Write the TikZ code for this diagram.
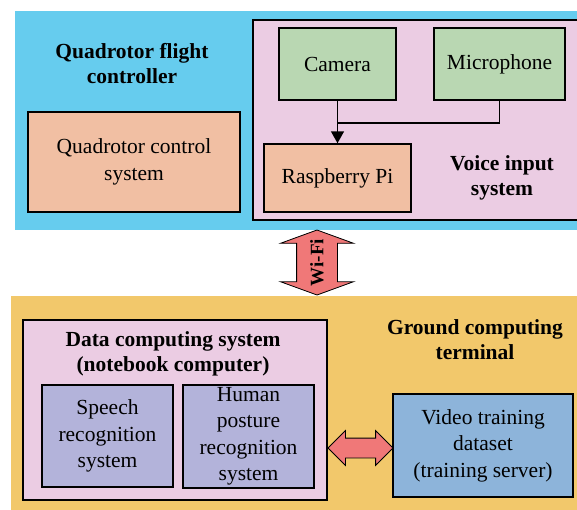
\documentclass[tikz,border=0pt]{standalone}
\usepackage{fontspec}
\setmainfont{Liberation Serif}
\usepackage{xcolor}
\usetikzlibrary{arrows.meta,shapes.arrows,calc}
\definecolor{skyblue}{HTML}{66CCEE}
\definecolor{lightpink}{HTML}{EBCCE3}
\definecolor{sage}{HTML}{B9D7B2}
\definecolor{peach}{HTML}{F1BFA3}
\definecolor{sand}{HTML}{F2C86B}
\definecolor{lavender}{HTML}{B3B3DA}
\definecolor{steel}{HTML}{8DB4DA}
\definecolor{salmon}{HTML}{F07878}

\begin{document}
\begin{tikzpicture}[x=1pt,y=-1pt,
      panel/.style={
        rectangle,
        inner sep=0pt
      },
      box/.style={
        rectangle,
        draw,
        line width=1.5pt,
        inner sep=0pt,
        align=center,
        font=\fontsize{21.5}{26.5}\selectfont
      },
      heading/.style={
        align=center,
        font=\bfseries\fontsize{21.5}{25}\selectfont
      },
      link/.style={
        shape=double arrow,
        draw,
        fill=salmon,
        line width=0.8pt,
        inner xsep=0pt
      },
      >={Triangle[length=12pt,width=13pt]}
    ]
    \useasboundingbox (0,0) rectangle (577,509);
    % top panel
    \node[panel,fill=skyblue,minimum width=562pt,minimum height=219pt] (flight) at (296,120.5) {};
    \node[box,fill=lightpink,minimum width=327pt,minimum height=200pt] (voice) at (416.5,120) {};
    \node[heading] (flightT) at (132,64) {Quadrotor flight\\controller};
    \node[box,fill=peach,minimum width=212pt,minimum height=100pt] (qcs) at (134,162) {Quadrotor control\\system};
    \node[box,fill=sage,minimum width=117pt,minimum height=72pt] (cam) at (337.5,64) {Camera};
    \node[box,fill=sage,minimum width=131pt,minimum height=72pt] (mic) at (499.5,64) {Microphone};
    \node[box,fill=peach,minimum width=147pt,minimum height=68pt] (rpi) at (337.5,178) {Raspberry Pi};
    \node[heading] (voiceT) at (502,178) {Voice input\\system};
    \coordinate (join) at (337.5,123);
    \draw[line width=1.5pt,->] (cam.south) -- (rpi.north);
    \draw[line width=1.5pt] (mic.south) |- (join);
    % bottom panel
    \node[panel,fill=sand,minimum width=566pt,minimum height=215pt,anchor=north west] (ground) at (11,296) {};
    \node[box,fill=lightpink,minimum width=304pt,minimum height=180pt] (data) at (175,410) {};
    \node[heading] (dataT) at (173,354) {Data computing system\\(notebook computer)};
    \node[box,fill=lavender,minimum width=131pt,minimum height=102pt] (speech) at (107.5,436) {Speech\\recognition\\system};
    \node[box,fill=lavender,minimum width=131pt,minimum height=103pt] (posture) at (248.5,436.5) {Human\\posture\\recognition\\system};
    \node[heading] (groundT) at (475,340) {Ground computing\\terminal};
    \node[box,fill=steel,minimum width=180pt,minimum height=103pt] (video) at (483,445.5) {Video training\\dataset\\(training server)};
    % links
    \node[link,rotate=90,minimum height=65pt,inner ysep=20pt,
      double arrow head extend=16pt,double arrow tip angle=140] (wifi) at (317,262.5) {};
    \node[rotate=90,font=\bfseries\fontsize{19}{19}\selectfont] (wifiT) at (wifi) {Wi-Fi};
    \node[link,minimum height=65pt,inner ysep=9.5pt,
      double arrow head extend=7.5pt,double arrow tip angle=90] (lan) at (360.5,448) {};
  \end{tikzpicture}
\end{document}
